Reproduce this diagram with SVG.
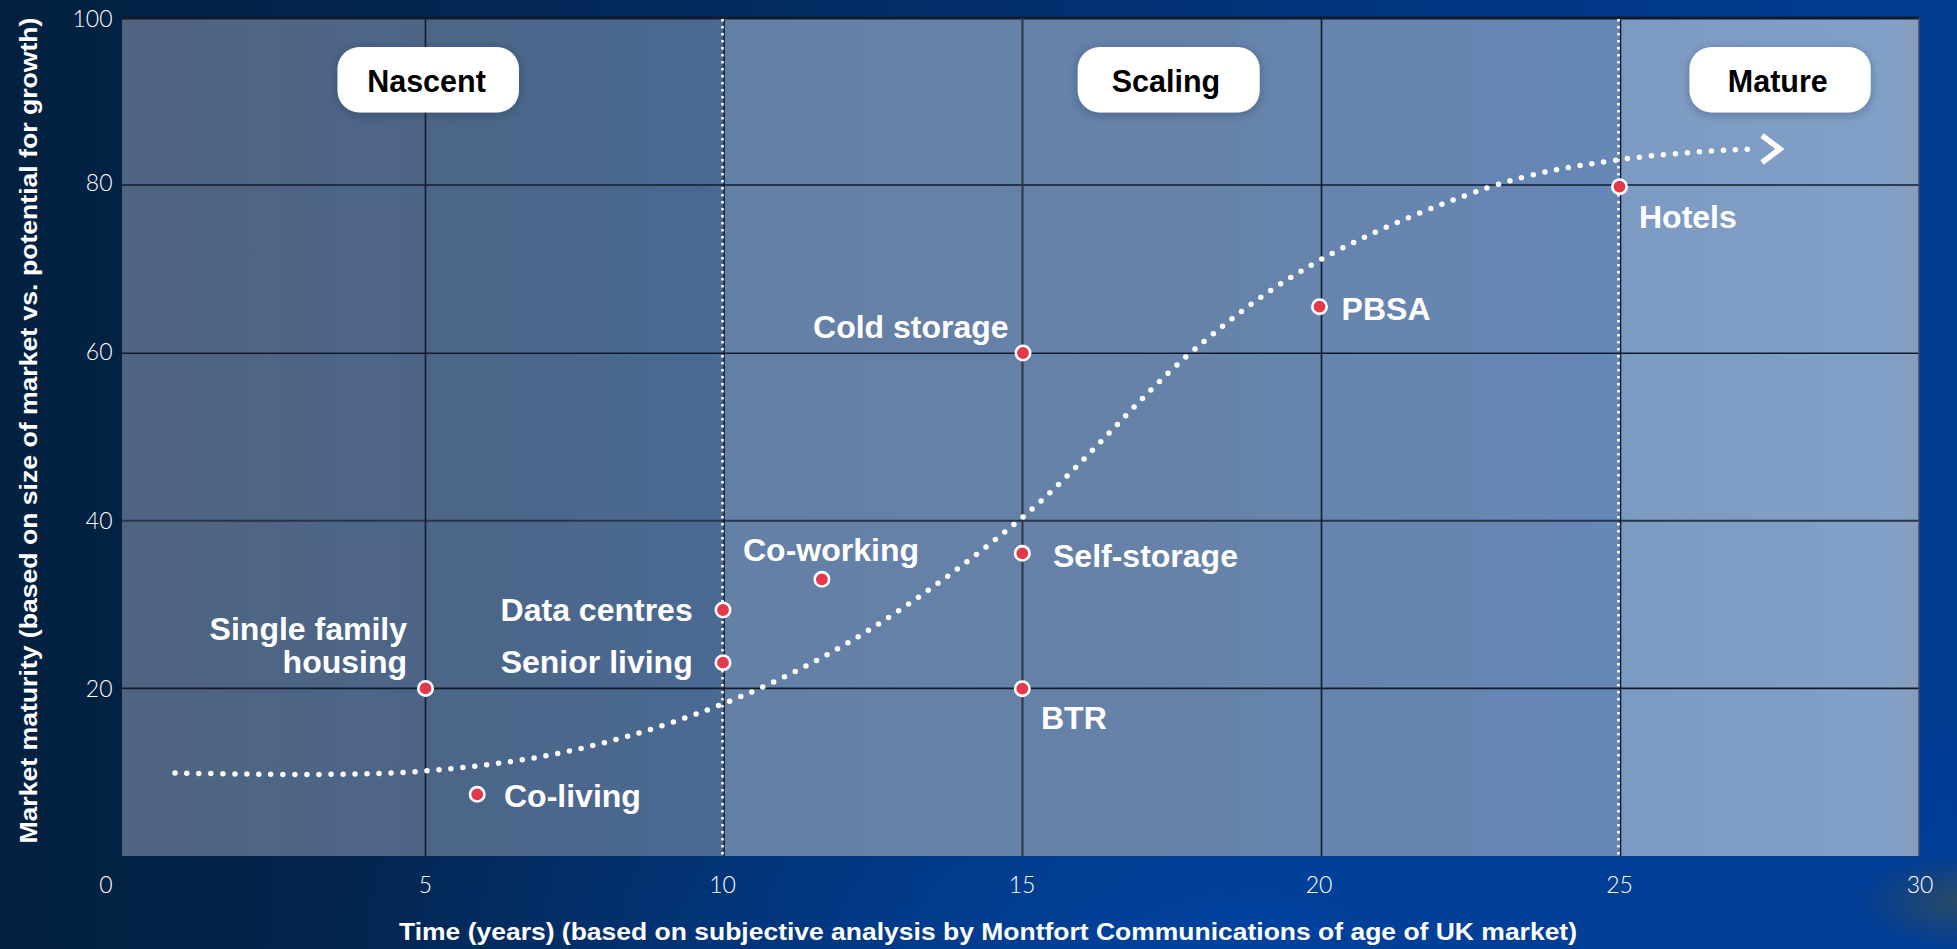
<svg xmlns="http://www.w3.org/2000/svg" width="1957" height="949" viewBox="0 0 1957 949">
<defs>
  <linearGradient id="bg" x1="0" y1="0" x2="1" y2="0">
    <stop offset="0" stop-color="#03203f"/>
    <stop offset="0.35" stop-color="#032a5c"/>
    <stop offset="0.7" stop-color="#01357f"/>
    <stop offset="1" stop-color="#013c93"/>
  </linearGradient>
  <radialGradient id="glow" cx="0.62" cy="1" r="0.45">
    <stop offset="0" stop-color="#0046a8" stop-opacity="0.8"/>
    <stop offset="1" stop-color="#0046a8" stop-opacity="0"/>
  </radialGradient>
  <radialGradient id="corner" cx="1" cy="0.95" r="0.05">
    <stop offset="0" stop-color="#5a5a30" stop-opacity="0.45"/>
    <stop offset="1" stop-color="#5a5a30" stop-opacity="0"/>
  </radialGradient>
  <linearGradient id="nas" x1="0" y1="0" x2="1" y2="0">
    <stop offset="0" stop-color="#4f6481"/>
    <stop offset="0.6" stop-color="#4c6689"/>
    <stop offset="1" stop-color="#4a6993"/>
  </linearGradient>
  <linearGradient id="sca" x1="0" y1="0" x2="1" y2="0">
    <stop offset="0" stop-color="#6480a7"/>
    <stop offset="0.5" stop-color="#6682a8"/>
    <stop offset="1" stop-color="#6688b7"/>
  </linearGradient>
  <linearGradient id="mat" x1="0" y1="0" x2="1" y2="0">
    <stop offset="0" stop-color="#7d9ac2"/>
    <stop offset="0.9" stop-color="#82a0c7"/>
    <stop offset="1" stop-color="#8a9cbc"/>
  </linearGradient>
  <filter id="shadow" x="-20%" y="-30%" width="140%" height="160%">
    <feDropShadow dx="0" dy="2" stdDeviation="4" flood-color="#1b2a44" flood-opacity="0.35"/>
  </filter>
  <style>
    .grid{stroke:#121b2b;stroke-width:1.6;fill:none}
    .vdot{stroke:#ffffff;stroke-width:2.6;stroke-dasharray:2.6 4.4;fill:none}
    .pt{fill:#e5384a;stroke:#ffffff;stroke-width:2.6}
    .lbl{font-family:"Liberation Sans",Arial,sans-serif;font-weight:700;font-size:32px;fill:#ffffff}
    .box{fill:#ffffff}
    .ptxt{font-family:"Liberation Sans",Arial,sans-serif;font-weight:700;font-size:30.5px;fill:#000000;text-anchor:middle}
    .tick{font-family:Lato,"Liberation Sans",sans-serif;font-weight:300;font-size:23px;fill:#ffffff}
    .axis{font-family:"Liberation Sans",Arial,sans-serif;font-weight:700;font-size:24px;fill:#ffffff;text-anchor:middle}
    .curve{stroke:#ffffff;stroke-width:5.5;stroke-linecap:round;stroke-dasharray:0 12;fill:none}
    .arrow{stroke:#ffffff;stroke-width:5.5;fill:none;stroke-linejoin:miter}
  </style>
</defs>

<!-- background -->
<rect x="0" y="0" width="1957" height="949" fill="url(#bg)"/>
<rect x="0" y="0" width="1957" height="949" fill="url(#glow)"/>
<rect x="0" y="0" width="1957" height="949" fill="url(#corner)"/>

<!-- plot zones -->
<g id="plot-area">
  <rect x="122" y="18" width="601" height="838" fill="url(#nas)"/>
  <rect x="723" y="18" width="896" height="838" fill="url(#sca)"/>
  <rect x="1619" y="18" width="300" height="838" fill="url(#mat)"/>
</g>

<!-- grid -->
<g id="grid">
  <line class="grid" x1="122" y1="18" x2="1919" y2="18" style="stroke-width:3"/>
  <line class="grid" x1="122" y1="185" x2="1919" y2="185"/>
  <line class="grid" x1="122" y1="353.3" x2="1919" y2="353.3"/>
  <line class="grid" x1="122" y1="520.8" x2="1919" y2="520.8" style="stroke:#2a3548;stroke-width:2"/>
  <line class="grid" x1="122" y1="688.4" x2="1919" y2="688.4"/>
  <line class="grid" x1="425.5" y1="18" x2="425.5" y2="856"/>
  <line class="grid" x1="1022.5" y1="18" x2="1022.5" y2="856" style="stroke:#2a3548;stroke-width:2"/>
  <line class="grid" x1="1321.5" y1="18" x2="1321.5" y2="856"/>
  <line class="grid" x1="724" y1="18" x2="724" y2="856"/>
  <line class="grid" x1="1620.5" y1="18" x2="1620.5" y2="856"/>
  <line class="grid" x1="1919" y1="18" x2="1919" y2="856" style="stroke:#3b4a62;stroke-width:1.5"/>
  <line class="vdot" x1="722.5" y1="19" x2="722.5" y2="856"/>
  <line class="vdot" x1="1618.5" y1="19" x2="1618.5" y2="856"/>
</g>

<!-- axes -->
<g id="y-axis">
  <text class="tick" x="112.5" y="26.7" text-anchor="end">100</text>
  <text class="tick" x="112.5" y="190.7" text-anchor="end">80</text>
  <text class="tick" x="112.5" y="360" text-anchor="end">60</text>
  <text class="tick" x="112.5" y="529.3" text-anchor="end">40</text>
  <text class="tick" x="112.5" y="697.3" text-anchor="end">20</text>
  <text class="axis" transform="translate(37,430.6) rotate(-90)" font-size="25.5" textLength="826" lengthAdjust="spacingAndGlyphs">Market maturity (based on size of market vs. potential for growth)</text>
</g>
<g id="x-axis">
  <text class="tick" x="106" y="893.3" text-anchor="middle">0</text>
  <text class="tick" x="425.5" y="893.3" text-anchor="middle">5</text>
  <text class="tick" x="722.6" y="893.3" text-anchor="middle">10</text>
  <text class="tick" x="1022" y="893.3" text-anchor="middle">15</text>
  <text class="tick" x="1319" y="893.3" text-anchor="middle">20</text>
  <text class="tick" x="1619.6" y="893.3" text-anchor="middle">25</text>
  <text class="tick" x="1920" y="893.3" text-anchor="middle">30</text>
  <text class="axis" x="988" y="940" textLength="1178" lengthAdjust="spacingAndGlyphs">Time (years) (based on subjective analysis by Montfort Communications of age of UK market)</text>
</g>

<!-- phase labels -->
<g id="phase-nascent">
  <rect class="box" x="337.5" y="47" width="181.5" height="65.5" rx="22" filter="url(#shadow)"/>
  <text class="ptxt" x="426.5" y="91.7">Nascent</text>
</g>
<g id="phase-scaling">
  <rect class="box" x="1077.7" y="47" width="182" height="65.5" rx="22" filter="url(#shadow)"/>
  <text class="ptxt" x="1166" y="91.7">Scaling</text>
</g>
<g id="phase-mature">
  <rect class="box" x="1689.5" y="47" width="181.2" height="65.5" rx="22" filter="url(#shadow)"/>
  <text class="ptxt" x="1777.8" y="91.7">Mature</text>
</g>

<!-- connectors -->
<g id="connectors">
  <path class="curve" d="M175,773 C215,773.5 350,777 425,771 C500,765 558.7,756 625,737 C691.3,718 757.7,692.8 823,657 C888.3,621.2 956.3,572.2 1017,522 C1077.7,471.8 1136.2,399.8 1187,356 C1237.8,312.2 1272,287 1322,259 C1372,231 1437.8,204.5 1487,188 C1536.2,171.5 1572,166.5 1617,160 C1662,153.5 1734,149 1757,149"/>
  <polyline class="arrow" points="1762,135.5 1780,149 1762,162.5"/>
</g>

<!-- data points -->
<g id="node-single-family-housing">
  <circle class="pt" cx="425.5" cy="688.4" r="7.2"/>
  <text class="lbl" x="407" y="640" text-anchor="end">Single family</text>
  <text class="lbl" x="407" y="672.7" text-anchor="end">housing</text>
</g>
<g id="node-co-living">
  <circle class="pt" cx="477.2" cy="794.3" r="7.2"/>
  <text class="lbl" x="504" y="807.3">Co-living</text>
</g>
<g id="node-data-centres">
  <circle class="pt" cx="723" cy="610" r="7.2"/>
  <text class="lbl" x="692.7" y="620.7" text-anchor="end">Data centres</text>
</g>
<g id="node-senior-living">
  <circle class="pt" cx="723" cy="662.7" r="7.2"/>
  <text class="lbl" x="692.7" y="672.7" text-anchor="end">Senior living</text>
</g>
<g id="node-co-working">
  <circle class="pt" cx="821.9" cy="579.3" r="7.2"/>
  <text class="lbl" x="743" y="560.7">Co-working</text>
</g>
<g id="node-self-storage">
  <circle class="pt" cx="1022.3" cy="553.3" r="7.2"/>
  <text class="lbl" x="1053" y="567.3">Self-storage</text>
</g>
<g id="node-btr">
  <circle class="pt" cx="1022.3" cy="688.7" r="7.2"/>
  <text class="lbl" x="1041" y="729.3">BTR</text>
</g>
<g id="node-cold-storage">
  <circle class="pt" cx="1023" cy="353" r="7.2"/>
  <text class="lbl" x="1008.6" y="338.3" text-anchor="end">Cold storage</text>
</g>
<g id="node-pbsa">
  <circle class="pt" cx="1319.5" cy="306.7" r="7.2"/>
  <text class="lbl" x="1341.6" y="320">PBSA</text>
</g>
<g id="node-hotels">
  <circle class="pt" cx="1619.5" cy="186.7" r="7.2"/>
  <text class="lbl" x="1639" y="227.7">Hotels</text>
</g>
</svg>
